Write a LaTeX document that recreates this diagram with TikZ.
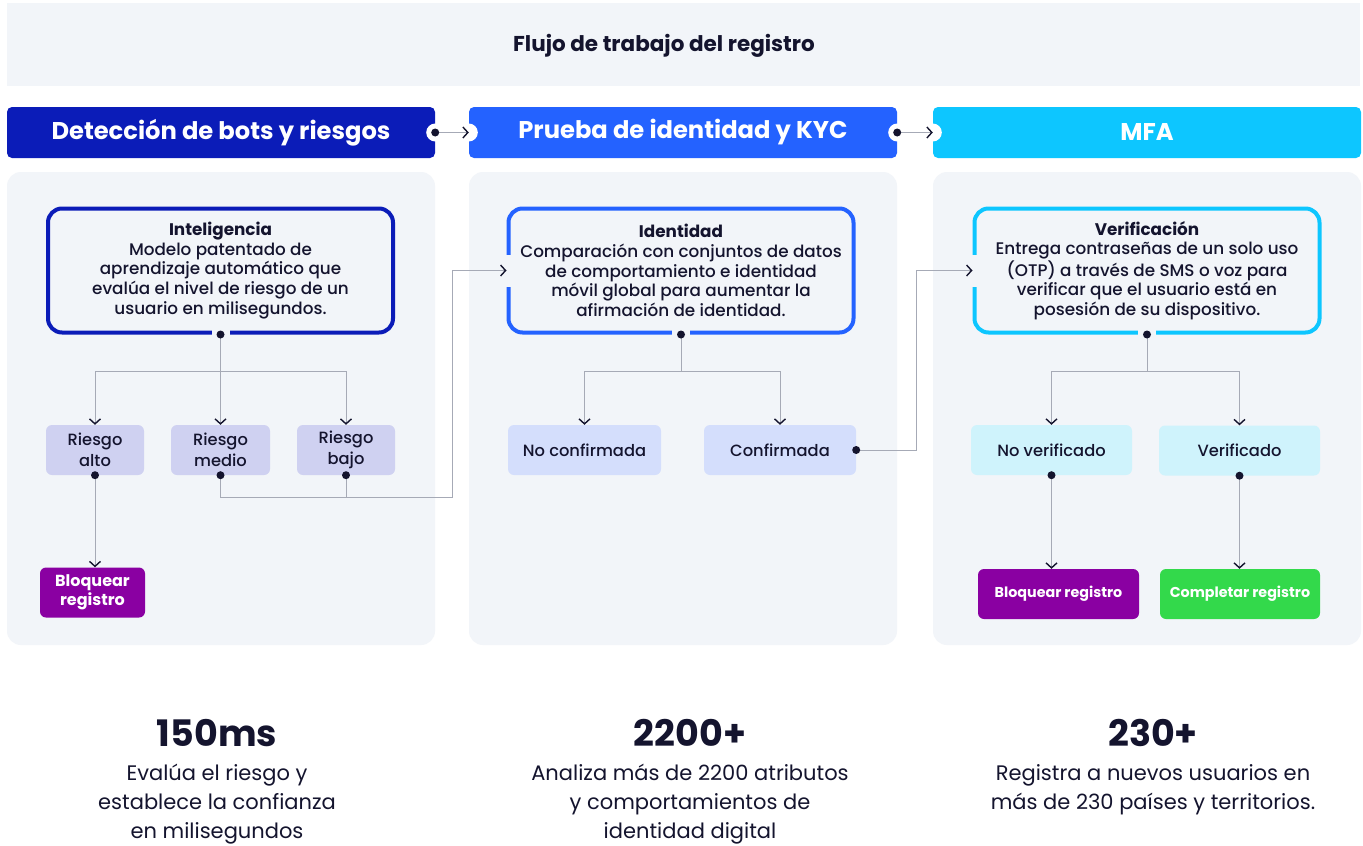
\documentclass[tikz,border=0pt]{standalone}
\usepackage{fontspec}
\setmainfont{Poppins}
\IfFontExistsTF{Poppins Medium}
  {\newfontfamily\medfont{Poppins}[UprightFont=* Medium,BoldFont=* Bold]}
  {\newcommand\medfont{}}
\usetikzlibrary{arrows.meta,positioning,calc}
\definecolor{ink}{HTML}{14142E}
\definecolor{panel}{HTML}{F2F5F9}
\definecolor{royal}{HTML}{0B1CB8}
\definecolor{azure}{HTML}{2462FF}
\definecolor{sky}{HTML}{0DC6FF}
\definecolor{riskfill}{HTML}{CFD1F1}
\definecolor{idfill}{HTML}{D4DEFC}
\definecolor{mfafill}{HTML}{CFF3FC}
\definecolor{stop}{HTML}{8A00A2}
\definecolor{pass}{HTML}{33D94B}
\definecolor{wire}{HTML}{A6AAB6}
\tikzset{
  title/.style={text=ink,font=\bfseries\fontsize{21.5}{25}\selectfont},
  hdr/.style={rounded corners=5pt,minimum width=428pt,minimum height=51pt,inner sep=0pt,text=white,font=\bfseries\fontsize{24.2}{28}\selectfont},
  card/.style={line width=4pt,rounded corners=14pt,fill=panel,minimum width=345pt,minimum height=124pt,inner sep=0pt,align=center,text=ink,font=\medfont\fontsize{16.8}{19.7}\selectfont},
  pill/.style={rounded corners=6pt,minimum height=50pt,inner sep=0pt,align=center,text=ink,font=\medfont\fontsize{16.3}{20.5}\selectfont},
  endbox/.style={pill,text=white,font=\bfseries\fontsize{14.3}{19}\selectfont},
  link/.style={draw=wire,line width=1pt,-{Straight Barb[length=5pt,width=11pt,line width=1.4pt,color=ink]}},
  line/.style={draw=wire,line width=1pt},
  dot/.style={circle,fill=ink,inner sep=0pt,minimum size=8pt},
  gap/.style={fill=panel,inner sep=0pt,minimum width=18pt,minimum height=9pt},
  gapv/.style={fill=panel,inner sep=0pt,minimum width=9pt,minimum height=32pt},
  notch/.style={circle,fill=white,inner sep=0pt,minimum size=18pt},
  stat/.style={text=ink,inner sep=0pt,font=\bfseries\fontsize{36.5}{42}\selectfont},
  note/.style={text=ink,align=center,inner sep=0pt,font=\fontsize{21}{29}\selectfont}
}
\begin{document}
\begin{tikzpicture}[x=1pt,y=-1pt]
\useasboundingbox[fill=white] (0,0) rectangle (1363,846);
\fill[panel] (7,3) rectangle (1360,86);
\node[title] (ttl) at (664,46) {Flujo de trabajo del registro};
\foreach \x in {7,469,933}
  \fill[panel,rounded corners=14pt] (\x,172) rectangle ++(428,473);

\node[hdr,fill=royal] (h1) at (221,132.5) {Detección de bots y riesgos};
\node[hdr,fill=azure] (h2) at (683,132.5) {Prueba de identidad y KYC};
\node[hdr,fill=sky] (h3) at (1147,132.5) {MFA};

\node[card,draw=royal] (intel) at (220.5,270.5) {\textbf{Inteligencia}\\Modelo patentado de\\aprendizaje automático que\\evalúa el nivel de riesgo de un\\usuario en milisegundos.};
\node[card,draw=azure] (idc) at (681,270.5) {\textbf{Identidad}\\Comparación con conjuntos de datos\\de comportamiento e identidad\\móvil global para aumentar la\\afirmación de identidad.};
\node[card,draw=sky] (mfac) at (1147,270.5) {\textbf{Verificación}\\Entrega contraseñas de un solo uso\\(OTP) a través de SMS o voz para\\verificar que el usuario está en\\posesión de su dispositivo.};

\node[pill,fill=riskfill,minimum width=98pt] (alto) at (95,450) {Riesgo\\alto};
\node[pill,fill=riskfill,minimum width=99pt] (medio) at (220.5,450) {Riesgo\\medio};
\node[pill,fill=riskfill,minimum width=98pt] (bajo) at (346,450) {Riesgo\\bajo};
\node[pill,fill=idfill,minimum width=153pt] (noconf) at (584.5,450) {No confirmada};
\node[pill,fill=idfill,minimum width=152pt] (conf) at (780,450) {Confirmada};
\node[pill,fill=mfafill,minimum width=161pt] (nover) at (1051.5,450) {No verificado};
\node[pill,fill=mfafill,minimum width=161pt] (ver) at (1239.5,450.5) {Verificado};

\node[endbox,fill=stop,minimum width=105pt,font=\bfseries\fontsize{16}{19}\selectfont] (blk1) at (92.5,592.5) {Bloquear\\registro};
\node[endbox,fill=stop,minimum width=161pt] (blk2) at (1058.5,594) {Bloquear registro};
\node[endbox,fill=pass,minimum width=160pt] (done) at (1240,594) {Completar registro};

\foreach \p in {intel.south,idc.south,mfac.south}
  \node[gap] at (\p) {};
\foreach \p in {idc.west,mfac.west}
  \node[gapv] at (\p) {};
\foreach \p in {h1.east,h2.west,h2.east,h3.west}
  \node[notch] at (\p) {};

\draw[link] (h1.east) -- (h2.west);
\draw[link] (h2.east) -- (h3.west);

\coordinate (f1) at (220.5,371);
\draw[link] (intel.south) -- (f1) -| (alto.north);
\draw[link] (f1) -| (bajo.north);
\draw[link] (intel.south) -- (medio.north);
\draw[link] (alto.south) -- (alto.south |- blk1.north);
\coordinate (r1) at (452,497);
\draw[link] (medio.south) |- (r1) |- (idc.west);
\draw[line] (bajo.south) -- (bajo.south |- r1);

\coordinate (f2) at (681,371);
\draw[link] (idc.south) -- (f2) -| (noconf.north);
\draw[link] (f2) -| (conf.north);
\draw[link] (conf.east) -- ++(60,0) |- (mfac.west);

\coordinate (f3) at (1147,371);
\draw[link] (mfac.south) -- (f3) -| (nover.north);
\draw[link] (f3) -| (ver.north);
\draw[link] (nover.south) -- (nover.south |- blk2.north);
\draw[link] (ver.south) -- (ver.south |- done.north);

\foreach \p in {h1.east,h2.east,intel.south,idc.south,mfac.south,alto.south,medio.south,bajo.south,conf.east,nover.south,ver.south}
  \node[dot] at (\p) {};

\node[stat] (s1) at (217,733) {150ms};
\node[stat] (s2) at (690,733) {2200+};
\node[stat] (s3) at (1153,733) {230+};
\node[note,below=17pt of s1] {Evalúa el riesgo y\\establece la confianza\\en milisegundos};
\node[note,below=17pt of s2] {Analiza más de 2200 atributos\\y comportamientos de\\identidad digital};
\node[note,below=17pt of s3] {Registra a nuevos usuarios en\\más de 230 países y territorios.};
\end{tikzpicture}
\end{document}
